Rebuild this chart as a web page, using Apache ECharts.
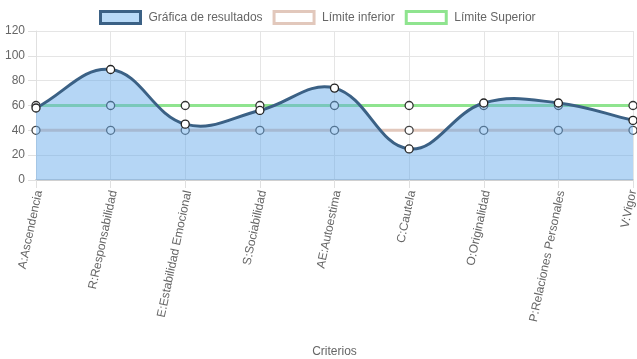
<!DOCTYPE html>
<html><head><meta charset="utf-8">
<script src="https://cdn.jsdelivr.net/npm/echarts@6/dist/echarts.min.js"></script>
<style>html,body{margin:0;padding:0;background:#fff}#c{width:637px;height:359px}</style>
</head><body><div id="c"></div>
<script>
const categories = ["A:Ascendencia","R:Responsabilidad","E:Estabilidad Emocional","S:Sociabilidad","AE:Autoestima","C:Cautela","O:Originalidad","P:Relaciones Personales","V:Vigor"];
const resultados = [58, 89, 45, 56, 74, 25, 62, 62, 48];
const limiteInferior = [40, 40, 40, 40, 40, 40, 40, 40, 40];
const limiteSuperior = [60, 60, 60, 60, 60, 60, 60, 60, 60];
const yTicks = [0, 20, 40, 60, 80, 100, 120];

const font = '"Liberation Sans", Arial, Helvetica, sans-serif';
const TENSION = 0.4;

// Chart.js-style cardinal spline path through pixel points (via library scales)
function renderCurve(params, api) {
  if (params.dataIndex !== 0) return null;
  const pts = resultados.map((v, i) => api.coord([i, v]));
  const n = pts.length;
  const cps = pts.map((p, i) => {
    const prev = pts[i - 1] || p, next = pts[i + 1] || p;
    const d01 = Math.hypot(p[0] - prev[0], p[1] - prev[1]);
    const d12 = Math.hypot(next[0] - p[0], next[1] - p[1]);
    let s01 = d01 / (d01 + d12), s12 = d12 / (d01 + d12);
    if (!isFinite(s01)) s01 = 0; if (!isFinite(s12)) s12 = 0;
    const fa = TENSION * s01, fb = TENSION * s12;
    return {
      prev: [p[0] - fa * (next[0] - prev[0]), p[1] - fa * (next[1] - prev[1])],
      next: [p[0] + fb * (next[0] - prev[0]), p[1] + fb * (next[1] - prev[1])]
    };
  });
  let d = 'M' + pts[0][0] + ' ' + pts[0][1];
  for (let i = 0; i < n - 1; i++) {
    const c1 = cps[i].next, c2 = cps[i + 1].prev, p = pts[i + 1];
    d += ' C' + c1[0] + ' ' + c1[1] + ' ' + c2[0] + ' ' + c2[1] + ' ' + p[0] + ' ' + p[1];
  }
  const base = api.coord([n - 1, yTicks[0]])[1];
  const area = d + ' L' + pts[n - 1][0] + ' ' + base + ' L' + pts[0][0] + ' ' + base + ' Z';
  return {
    type: 'group',
    children: [
      {type: 'path', shape: {pathData: area}, style: {fill: 'rgba(100,170,235,0.48)', stroke: null}},
      {type: 'path', shape: {pathData: d}, style: {fill: null, stroke: '#3b6185', lineWidth: 3}}
    ]
  };
}

const lastIdx = categories.length - 1;
const xData = categories.map((c, i) => i === lastIdx
  ? {value: c, textStyle: {verticalAlign: 'middle', lineHeight: 12}}
  : c);

const chart = echarts.init(document.getElementById('c'));
chart.setOption({
  animation: false,
  textStyle: {fontFamily: font},
  legend: {
    top: 10, left: 99, padding: 0, icon: 'rect', itemWidth: 40, itemHeight: 12, itemGap: 10,
    textStyle: {color: '#666', fontSize: 12, fontFamily: font, padding: [0, 0, 0, 3]},
    data: [
      {name: 'Gráfica de resultados', itemStyle: {color: '#b9daf7', borderColor: '#3b6185', borderWidth: 3}},
      {name: 'Límite inferior', itemStyle: {color: '#fff', borderColor: '#e2c8bc', borderWidth: 3}},
      {name: 'Límite Superior', itemStyle: {color: '#fff', borderColor: '#8fe48f', borderWidth: 3}}
    ]
  },
  grid: {left: 36, right: 4, top: 31, bottom: 179, containLabel: false, outerBoundsMode: 'none'},
  xAxis: {
    type: 'category', data: xData, boundaryGap: false,
    name: 'Criterios', nameLocation: 'middle', nameGap: 166,
    nameTextStyle: {color: '#666', fontSize: 12, fontFamily: font},
    axisLine: {show: true, lineStyle: {color: '#d0d0d0', width: 2}},
    axisTick: {show: true, length: 8, lineStyle: {color: '#e0e0e0'}},
    axisLabel: {rotate: 78, margin: 10, color: '#666', fontSize: 12, fontFamily: font, verticalAlign: 'top', lineHeight: 6},
    splitLine: {show: true, lineStyle: {color: '#e5e5e5'}}
  },
  yAxis: {
    type: 'value', min: yTicks[0], max: yTicks[yTicks.length - 1], interval: 20,
    axisLine: {show: true, lineStyle: {color: '#e0e0e0'}},
    axisTick: {show: true, length: 8, lineStyle: {color: '#e0e0e0'}},
    axisLabel: {color: '#666', fontSize: 12, margin: 11, fontFamily: font},
    splitLine: {show: true, lineStyle: {color: '#e5e5e5'}}
  },
  series: [
    {
      name: 'Límite inferior', type: 'line', data: limiteInferior, z: 2,
      symbol: 'circle', symbolSize: 8,
      lineStyle: {color: '#e2c8bc', width: 3},
      itemStyle: {color: '#fff', borderColor: '#444', borderWidth: 1.3}
    },
    {
      name: 'Límite Superior', type: 'line', data: limiteSuperior, z: 2,
      symbol: 'circle', symbolSize: 8,
      lineStyle: {color: '#8fe48f', width: 3},
      itemStyle: {color: '#fff', borderColor: '#333', borderWidth: 1.3}
    },
    {
      name: 'curva', type: 'custom', z: 3, silent: true,
      data: resultados.map((v, i) => [i, v]),
      encode: {x: 0, y: 1},
      renderItem: renderCurve
    },
    {
      name: 'Gráfica de resultados', type: 'line', data: resultados, z: 4,
      symbol: 'circle', symbolSize: 8,
      lineStyle: {width: 0, opacity: 0},
      itemStyle: {color: '#fff', borderColor: '#222', borderWidth: 1.3}
    }
  ]
});
</script></body></html>
